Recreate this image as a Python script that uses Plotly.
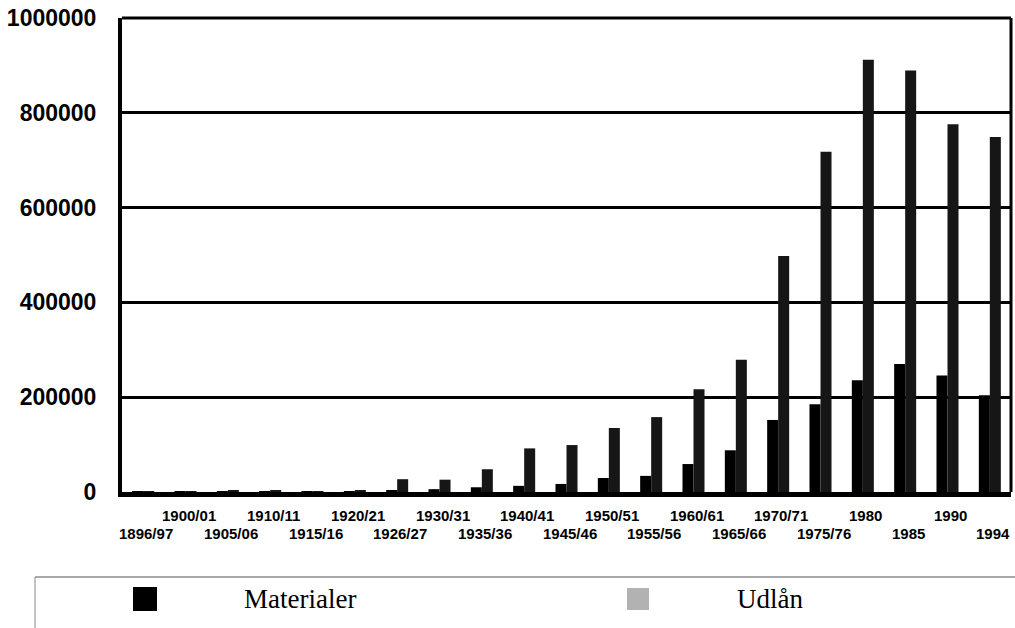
import plotly.graph_objects as go

# ---- data ----
categories = ["1896/97", "1900/01", "1905/06", "1910/11", "1915/16", "1920/21", "1926/27",
              "1930/31", "1935/36", "1940/41", "1945/46", "1950/51", "1955/56", "1960/61",
              "1965/66", "1970/71", "1975/76", "1980", "1985", "1990", "1994"]
materialer = [800, 1000, 1200, 1500, 1500, 2000, 3000,
              6000, 10000, 13000, 17000, 29500, 34000, 59000,
              88000, 152000, 185000, 236000, 270000, 246000, 204000]
udlaan = [1000, 1500, 3000, 4000, 2000, 4000, 27000,
          26000, 48000, 92000, 99000, 135000, 158000, 217000,
          279000, 498000, 718000, 912000, 889000, 776000, 749000]
series_names = ["Materialer", "Udlån"]
y_ticks = [0, 200000, 400000, 600000, 800000, 1000000]

# ---- geometry (pixels) ----
W, H = 1015, 628
L, R, T, B = 122, 1011, 18, 492


def px2x(px):
    return (px - L) / (R - L)


def px2y(py):
    return (B - py) / (B - T)


fig = go.Figure()
fig.add_trace(go.Bar(x=categories, y=materialer, name=series_names[0],
                     marker=dict(color="#000000", line=dict(width=0))))
fig.add_trace(go.Bar(x=categories, y=udlaan, name=series_names[1],
                     marker=dict(color="#161616", line=dict(width=0))))

fig.update_layout(
    width=W, height=H,
    margin=dict(l=L, r=W - R, t=T, b=H - B, pad=0),
    paper_bgcolor="white", plot_bgcolor="white",
    barmode="group", bargap=0.48, bargroupgap=0.0,
    showlegend=False,
    font=dict(family="Liberation Sans, Arial", color="black"),
)

fig.update_xaxes(type="category", categoryorder="array", categoryarray=categories,
                 range=[-0.5, len(categories) - 0.5],
                 showline=True, linewidth=5, linecolor="black",
                 showgrid=False, showticklabels=False, ticks="", zeroline=False)
fig.update_yaxes(range=[0, 1000000], tickvals=y_ticks, ticktext=[str(v) for v in y_ticks],
                 showgrid=True, gridcolor="black", gridwidth=2.5,
                 showline=True, linewidth=4, linecolor="black", zeroline=False,
                 ticks="", ticklabelstandoff=17,
                 tickfont=dict(family="Liberation Sans, Arial", size=23, color="black", weight="bold"))

LEG_Y = 577
shapes = [
    # top and right frame
    dict(type="line", xref="paper", yref="paper", x0=0, x1=1, y0=1, y1=1,
         line=dict(color="black", width=3)),
    dict(type="line", xref="paper", yref="paper", x0=1, x1=1, y0=0, y1=1,
         line=dict(color="black", width=3)),
    # legend frame
    dict(type="line", xref="paper", yref="paper", x0=px2x(35), x1=px2x(1016),
         y0=px2y(LEG_Y), y1=px2y(LEG_Y), line=dict(color="#555555", width=1.2)),
    dict(type="line", xref="paper", yref="paper", x0=px2x(35), x1=px2x(35),
         y0=px2y(LEG_Y), y1=px2y(630), line=dict(color="#888888", width=1)),
    # legend swatches
    dict(type="rect", xref="paper", yref="paper", x0=px2x(133), x1=px2x(157),
         y0=px2y(LEG_Y + 34), y1=px2y(LEG_Y + 10), fillcolor="#000000", line=dict(width=0)),
    dict(type="rect", xref="paper", yref="paper", x0=px2x(627), x1=px2x(649),
         y0=px2y(LEG_Y + 33), y1=px2y(LEG_Y + 11), fillcolor="#b2b2b2", line=dict(width=0)),
]

annotations = []
for i, c in enumerate(categories):
    row_y = 515 if i % 2 == 1 else 533
    annotations.append(dict(x=i, xref="x", y=px2y(row_y), yref="paper", text=c,
                            showarrow=False, xanchor="center", yanchor="middle", xshift=3,
                            font=dict(family="Liberation Sans, Arial", size=15,
                                      color="black", weight="bold")))
for name, xpx in zip(series_names, [242, 735]):
    annotations.append(dict(x=px2x(xpx), xref="paper", y=px2y(LEG_Y + 22), yref="paper", text=name,
                            showarrow=False, xanchor="left", yanchor="middle",
                            font=dict(family="Liberation Serif, Times New Roman", size=27,
                                      color="black")))

fig.update_layout(shapes=shapes, annotations=annotations)
fig.write_html("out.html", config={"displayModeBar": False},
               post_script="document.body.style.margin='0';document.body.style.overflow='hidden';")
